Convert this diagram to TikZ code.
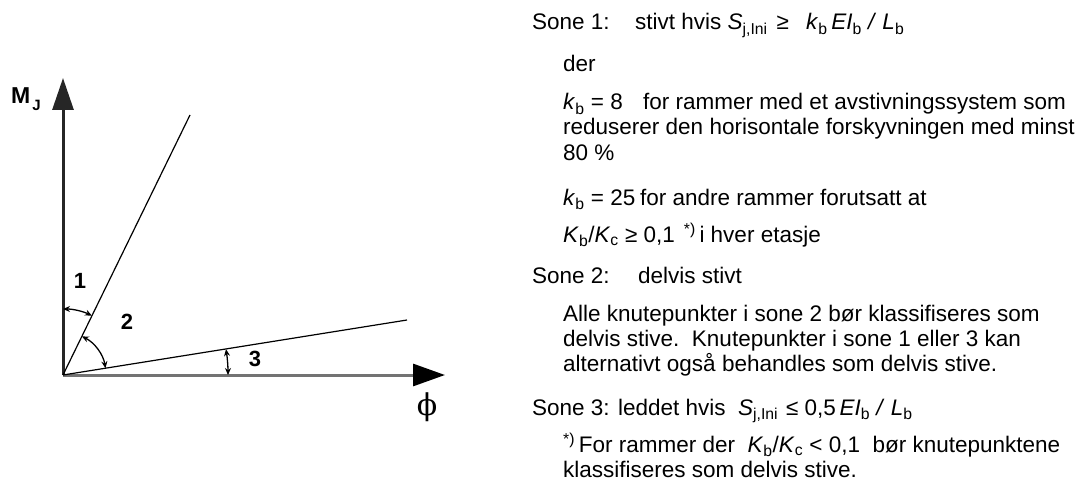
\documentclass[tikz,border=0pt]{standalone}
\usepackage{fontspec}
\setmainfont{Liberation Sans}
\newfontfamily\phifont{DejaVu Serif}
\usetikzlibrary{arrows.meta,calc}
\tikzset{
  txt/.style={anchor=base west,inner sep=0pt,font=\fontsize{22.5}{26}\selectfont},
  sonenr/.style={inner sep=0pt,font=\bfseries\fontsize{22}{24}\selectfont},
  vinkel/.style={line width=1.3pt,{Stealth[length=7pt,width=6pt]}-{Stealth[length=7pt,width=6pt]}}
}
\newcommand{\idx}[2]{\textit{#1}\textsubscript{#2}}
\begin{document}
\begin{tikzpicture}[x=1pt,y=1pt]
  \useasboundingbox (0,-484) rectangle (1086,0);
  % akser
  \coordinate (O) at (63,-375);
  \coordinate (ytopp) at (63,-78);
  \coordinate (xende) at (445,-375);
  \draw[line width=3pt,black!85,-{Triangle[length=32pt,width=21pt]}] (O) -- (ytopp);
  \draw[line width=3pt,black!55,-{Triangle[length=32pt,width=22pt,color=black]}] (O) -- (xende);
  \node[anchor=base west,inner sep=0pt,font=\bfseries\fontsize{23}{24}\selectfont] (mj) at (11,-103)
    {M\hspace{2pt}\raisebox{-8pt}{\fontsize{15}{15}\selectfont J}};
  \node[inner sep=0pt,font=\phifont\fontsize{30}{30}\selectfont] (phi) at (427,-407) {ϕ};
  % grenser mellom sonene
  \coordinate (g1) at (190,-115);
  \coordinate (g3) at (407,-320);
  \draw[line width=1.2pt] (O) -- (g1);
  \draw[line width=1.2pt] (O) -- (g3);
  % vinkler
  \draw[vinkel] ($(O)+(90:66)$) arc[start angle=90,end angle=64,radius=66];
  \draw[vinkel] ($(O)+(64:43)$) arc[start angle=64,end angle=9,radius=43];
  \draw[vinkel] ($(O)+(9:165)$) arc[start angle=9,end angle=0,radius=165];
  \node[sonenr] (n1) at (80,-281) {1};
  \node[sonenr] (n2) at (127,-322) {2};
  \node[sonenr] (n3) at (255,-359) {3};
  % tekst
  \node[txt] (s1) at (532,-30) {Sone 1:};
  \node[txt] (s1t) at (635,-30) {stivt hvis \idx{S}{j,Ini}\hspace{9pt}≥\hspace{17pt}\idx{k}{b}\,\textit{EI}\textsubscript{b} \textit{/} \idx{L}{b}};
  \node[txt] (der) at (563,-72) {der};
  \node[txt] (kb8) at (563,-110) {\idx{k}{b} = 8};
  \node[txt] (kb8t) at (643,-110) {for rammer med et avstivningssystem som};
  \node[txt] (red) at (563,-135) {reduserer den horisontale forskyvningen med minst};
  \node[txt] (pst) at (563,-160) {80 \%};
  \node[txt] (kb25) at (563,-205) {\idx{k}{b} = 25};
  \node[txt] (kb25t) at (640,-205) {for andre rammer forutsatt at};
  \node[txt] (kbkc) at (563,-242) {\idx{K}{b}/\idx{K}{c} ≥ 0,1\hspace{9pt}\textsuperscript{*)}\,i hver etasje};
  \node[txt] (s2) at (532,-283) {Sone 2:};
  \node[txt] (s2t) at (638,-283) {delvis stivt};
  \node[txt] (alle) at (563,-321) {Alle knutepunkter i sone 2 bør klassifiseres som};
  \node[txt] (delv) at (563,-346) {delvis stive.\ \ Knutepunkter i sone 1 eller 3 kan};
  \node[txt] (alt) at (563,-371) {alternativt også behandles som delvis stive.};
  \node[txt] (s3) at (532,-415) {Sone 3: leddet hvis};
  \node[txt] (s3t) at (738,-415) {\idx{S}{j,Ini}\hspace{8pt}≤\hspace{6pt}0,5\,\textit{EI}\textsubscript{b} \textit{/} \idx{L}{b}};
  \node[txt] (fn) at (563,-452) {\textsuperscript{*)}\,For rammer der\ \ \idx{K}{b}/\idx{K}{c} < 0,1\ \ bør knutepunktene};
  \node[txt] (kla) at (563,-477) {klassifiseres som delvis stive.};
\end{tikzpicture}
\end{document}
